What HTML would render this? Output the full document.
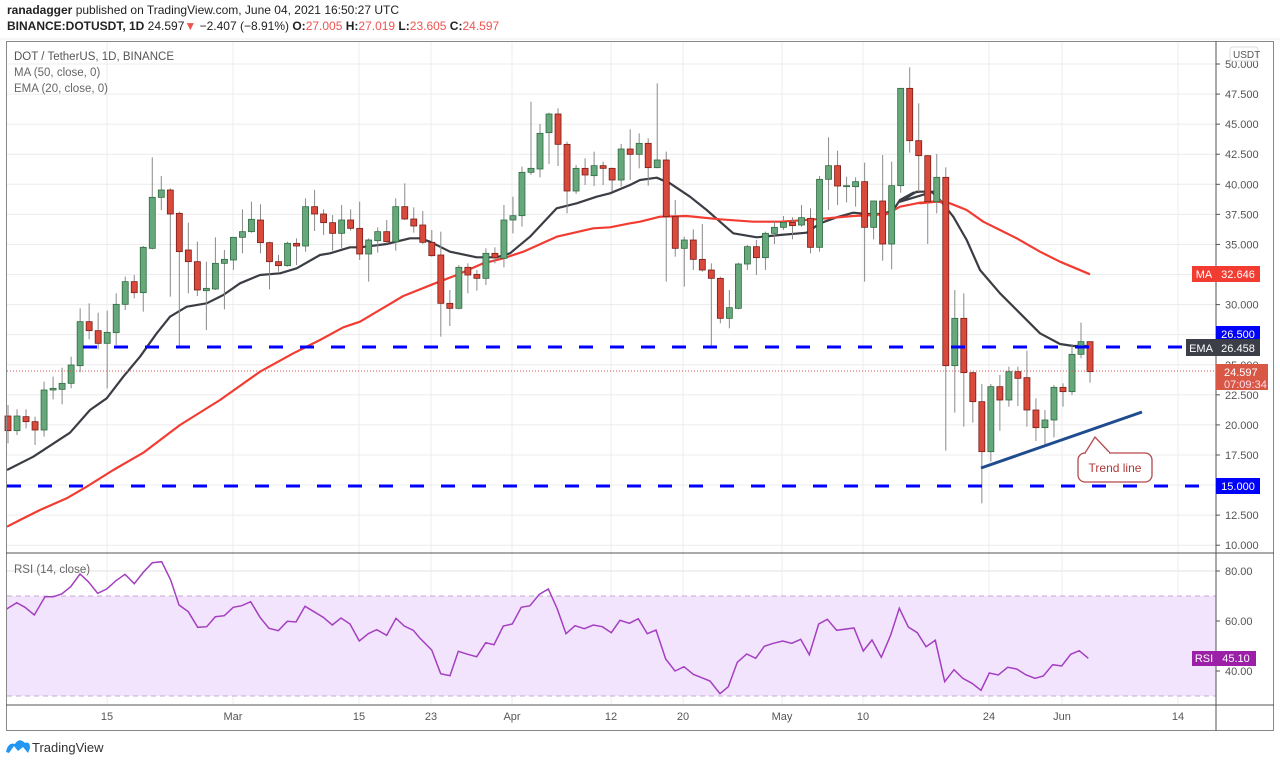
<!DOCTYPE html>
<html><head><meta charset="utf-8">
<style>
html,body{margin:0;padding:0;background:#fff;width:1280px;height:765px;overflow:hidden;font-family:"Liberation Sans",sans-serif;}
svg{position:absolute;left:0;top:0}
</style></head>
<body>
<svg id="s" width="1280" height="765" xmlns="http://www.w3.org/2000/svg" font-family="Liberation Sans, sans-serif">
<text x="7" y="14" font-size="12" fill="#222"><tspan font-weight="bold">ranadagger</tspan> published on TradingView.com, June 04, 2021 16:50:27 UTC</text>
<text x="7" y="30" font-size="12" fill="#222" font-weight="bold">BINANCE:DOTUSDT, 1D <tspan font-weight="normal">24.597</tspan><tspan fill="#ef5350">▼</tspan> <tspan font-weight="normal">−2.407 (−8.91%)</tspan> O:<tspan fill="#ef5350" font-weight="normal">27.005</tspan> H:<tspan fill="#ef5350" font-weight="normal">27.019</tspan> L:<tspan fill="#ef5350" font-weight="normal">23.605</tspan> C:<tspan fill="#ef5350" font-weight="normal">24.597</tspan></text>
<line x1="0" y1="39" x2="1280" y2="39" stroke="#eee"/>
<g id="grid"></g>
<rect x="7" y="596" width="1209" height="100" fill="#f3e4fd"/>
<line x1="7" y1="596" x2="1216" y2="596" stroke="#c9a9d6" stroke-dasharray="5,4"/>
<line x1="7" y1="696" x2="1216" y2="696" stroke="#c9a9d6" stroke-dasharray="5,4"/>
<g id="lines"></g>
<g id="candles"></g>
<g id="over"></g>
<rect x="6.5" y="41.5" width="1267" height="689" fill="none" stroke="#888"/>
<line x1="6" y1="553" x2="1274" y2="553" stroke="#555"/>
<line x1="6" y1="705" x2="1274" y2="705" stroke="#555"/>
<line x1="1216" y1="41" x2="1216" y2="731" stroke="#555"/>
<text x="14" y="60" font-size="11.5" fill="#555">DOT / TetherUS, 1D, BINANCE</text>
<text x="14" y="76" font-size="11.5" fill="#666">MA (50, close, 0)</text>
<text x="14" y="92" font-size="11.5" fill="#666">EMA (20, close, 0)</text>
<text x="14" y="573" font-size="11.5" fill="#666">RSI (14, close)</text>
<g id="axis" font-size="11" fill="#555"></g>
<rect x="1230" y="47" width="28" height="14" rx="3" fill="#fff" stroke="#ddd"/>
<text x="1233" y="58" font-size="10" fill="#555">USDT</text>
<line x1="981" y1="468" x2="1142" y2="412" stroke="#1f4c8f" stroke-width="3"/>
<path d="M1085 453 L1095 437 L1110 453" fill="#fff" stroke="#b5484b" stroke-width="1.3"/>
<rect x="1078" y="453" width="74" height="29" rx="7" fill="#fff" stroke="#b5484b" stroke-width="1.3"/>
<line x1="1086" y1="453" x2="1109" y2="453" stroke="#fff" stroke-width="2"/>
<text x="1115" y="472" font-size="12" fill="#b03a3a" text-anchor="middle">Trend line</text>
<rect x="1192" y="266" width="24" height="16" fill="#f23c32"/><text x="1204" y="278" font-size="11" fill="#fff" text-anchor="middle">MA</text>
<rect x="1216" y="266" width="44" height="16" fill="#f23c32"/><text x="1238" y="278" font-size="11" fill="#fff" text-anchor="middle">32.646</text>
<rect x="1216" y="326" width="44" height="16" fill="#0000ff"/><text x="1238" y="338" font-size="11" fill="#fff" text-anchor="middle">26.500</text>
<rect x="1186" y="339" width="30" height="17" fill="#3d3f48"/><text x="1201" y="352" font-size="11" fill="#fff" text-anchor="middle">EMA</text>
<rect x="1216" y="339" width="44" height="17" fill="#3d3f48"/><text x="1238" y="352" font-size="11" fill="#fff" text-anchor="middle">26.458</text>
<rect x="1216" y="364" width="52" height="26" fill="#d95745"/><text x="1224" y="376" font-size="11" fill="#fff">24.597</text><text x="1224" y="388" font-size="11" fill="#fde">07:09:34</text>
<rect x="1216" y="478" width="44" height="16" fill="#0000ff"/><text x="1238" y="490" font-size="11" fill="#fff" text-anchor="middle">15.000</text>
<rect x="1192" y="651" width="24" height="15" fill="#9c1fa8"/><text x="1204" y="662" font-size="11" fill="#fff" text-anchor="middle">RSI</text>
<rect x="1216" y="651" width="40" height="15" fill="#9c1fa8"/><text x="1236" y="662" font-size="11" fill="#fff" text-anchor="middle">45.10</text>
<path d="M6 752 Q8 742 15 744 Q19 737 25 743 Q30 741 30 748 L28 753 L23 747 L18 751 L14 746 L9 753 Z" fill="#2196f3"/>
<text x="32" y="752" font-size="13" fill="#333">TradingView</text>
</svg>
<script>
const NS="http://www.w3.org/2000/svg";
function el(p,t,a){const e=document.createElementNS(NS,t);for(const k in a)e.setAttribute(k,a[k]);document.getElementById(p).appendChild(e);return e;}
const Y=z=>40+z/3;
const py=v=>64+(50-v)*12.03;
for(let v=50;v>=10;v-=2.5){el('grid','line',{x1:7,x2:1216,y1:py(v),y2:py(v),stroke:'#ececec'});
 el('axis','line',{x1:1216,x2:1220,y1:py(v),y2:py(v),stroke:'#555'});
 const t=el('axis','text',{x:1225,y:py(v)+4});t.textContent=v.toFixed(3);}
const ry=v=>571+(80-v)*2.5;
[80,60,40].forEach(v=>{el('grid','line',{x1:7,x2:1216,y1:ry(v),y2:ry(v),stroke:'#e2e2e2'});
 el('axis','line',{x1:1216,x2:1220,y1:ry(v),y2:ry(v),stroke:'#555'});
 const t=el('axis','text',{x:1225,y:ry(v)+4});t.textContent=v.toFixed(2);});
const xl=[[107,'15'],[233,'Mar'],[359,'15'],[431,'23'],[512,'Apr'],[611,'12'],[683,'20'],[782,'May'],[863,'10'],[989,'24'],[1062,'Jun'],[1178,'14']];
xl.forEach(([x,s])=>{el('grid','line',{x1:x,x2:x,y1:41,y2:705,stroke:'#ececec'});
 const t=el('axis','text',{x:x,y:720,'text-anchor':'middle'});t.textContent=s;});
el('over','line',{x1:83,x2:1216,y1:347,y2:347,stroke:'#0000ff','stroke-width':3,'stroke-dasharray':'14,17'});
el('over','line',{x1:7,x2:1216,y1:486,y2:486,stroke:'#0000ff','stroke-width':3,'stroke-dasharray':'14,17'});
el('over','line',{x1:7,x2:1216,y1:371,y2:371,stroke:'#e05050','stroke-width':1,'stroke-dasharray':'1,2'});
const C=`r 1128 1172 1095 1210|g 1128 1172 1108 1185|r 1130 1145 1108 1165|r 1145 1170 1130 1215|g 1050 1170 1025 1190|g 1045 1050 1010 1078|g 1030 1048 983 1093|g 975 1030 950 1045|g 845 977 805 997|r 845 872 790 898|r 872 910 818 928|g 877 910 812 1045|g 793 878 760 915|g 725 793 710 810|r 725 758 705 775|g 622 758 618 815|g 472 625 352 628|g 450 472 408 510|r 450 522 445 770|r 520 635 515 925|r 630 665 548 760|r 665 750 605 768|g 745 752 665 870|g 670 747 592 750|g 658 670 630 808|g 592 660 592 690|g 575 592 508 640|g 538 575 485 578|r 540 608 493 640|r 608 665 605 748|r 665 677 645 695|g 610 677 605 680|r 610 618 595 675|g 500 618 475 635|r 500 522 450 573|r 522 548 508 585|r 548 580 525 632|g 540 580 495 625|r 540 565 508 572|r 565 642 485 660|g 600 642 595 725|g 575 602 562 638|r 575 605 540 612|g 500 605 475 632|r 500 537 430 540|r 537 558 502 578|r 555 607 513 612|r 607 647 570 650|r 645 790 575 890|r 790 805 750 858|g 682 805 675 808|r 682 705 670 760|r 703 715 690 752|g 640 715 625 735|r 640 653 622 670|g 540 655 495 682|g 527 540 470 580|g 397 527 380 560|g 385 397 185 405|g 280 387 252 412|g 222 278 218 372|r 222 313 205 378|r 313 453 305 520|g 385 453 375 462|r 385 405 355 435|g 377 407 335 438|r 377 385 365 435|r 385 420 383 455|g 327 420 312 440|r 327 343 268 420|g 310 343 280 385|r 310 383 295 437|g 360 383 130 385|r 360 530 335 725|r 530 625 480 650|g 600 625 590 740|r 600 658 568 690|r 658 690 552 695|r 690 715 670 920|r 715 835 710 850|g 803 835 750 865|g 672 805 668 808|g 620 672 615 690|r 620 653 600 705|g 580 653 575 690|g 562 580 545 612|g 547 562 528 570|r 547 557 532 598|g 533 555 495 560|r 535 622 505 640|g 418 622 408 635|g 377 418 292 510|r 377 438 332 495|g 437 440 410 487|g 425 440 412 500|r 425 562 368 725|g 483 562 483 598|r 483 612 345 662|g 437 612 365 688|g 145 437 145 458|r 145 302 82 338|r 302 347 190 455|r 347 485 345 612|g 412 485 342 520|r 412 977 382 1232|g 835 977 750 1118|r 835 998 760 1160|r 998 1085 995 1148|r 1085 1235 1032 1390|g 1040 1235 1032 1265|r 1040 1080 1005 1172|g 995 1080 980 1100|r 995 1015 980 1098|r 1013 1110 932 1160|r 1110 1163 1075 1203|g 1140 1163 1110 1215|g 1042 1140 1035 1192|r 1042 1055 1030 1100|g 943 1055 912 1065|g 905 943 848 955|r 905 995 905 1028`.split('|');
C.forEach((s,i)=>{const p=s.split(' ');const x=8+9.017*i;const bt=Y(+p[1]),bb=Y(+p[2]),wt=Y(+p[3]),wb=Y(+p[4]);
 el('candles','line',{x1:x,x2:x,y1:wt,y2:wb,stroke:'#8a8a8a','stroke-width':1});
 const g=p[0]==='g';
 el('candles','rect',{x:x-3,y:bt,width:6,height:Math.max(bb-bt,1),fill:g?'#66a87c':'#d9493c',stroke:g?'#2f6b40':'#7a1d17','stroke-width':0.8});});
function poly(segs,col,w){let pts=[];segs.forEach(([ox,sc,arr])=>{for(let i=0;i<arr.length;i+=2)pts.push((ox+arr[i]/sc).toFixed(1)+','+Y(arr[i+1]).toFixed(1));});
 el('lines','polyline',{points:pts.join(' '),fill:'none',stroke:col,'stroke-width':w,'stroke-linejoin':'round'});}
poly([[0,3,[21,1290,100,1250,210,1178,270,1110,320,1075,370,1010,420,950,470,880,510,830,560,800,620,790,670,765,720,730,780,705,840,700,890,685,960,645]],
[310,3,[60,640,120,622,150,622,230,612,300,595,330,595,360,605,420,635,500,652,560,652,600,640,660,590,740,505,800,490,860,470,900,460,960,435]],
[620,3,[60,420,110,413,150,430,210,470,260,510,300,545,340,580,410,592,480,585,560,578,600,550,650,532,700,518,740,522,790,522,820,510,840,480,880,458,900,455,940,455]],
[900,3,[0,485,50,455,95,455,120,480,160,530,200,600,240,690,300,760,360,820,420,880,480,912,520,918,565,918]]],'#3b3d44',2.2);
poly([[0,3,[21,1460,60,1440,120,1410,200,1375,260,1340,340,1290,430,1238,540,1155,660,1080,780,995,880,940,960,900]],
[310,3,[100,862,150,845,280,768,380,728,440,705,520,670,580,655,640,635,740,590,850,565,900,562,960,550]],
[620,3,[60,545,120,530,200,528,300,538,400,545,480,545,560,540,620,535,700,528,760,525,800,522,840,500,900,488,960,483]],
[900,3,[60,490,110,485,150,490,200,510,250,545,300,570,350,595,420,635,480,665,570,703]]],'#f23c32',2.2);
const R=[[0,[20,192,50,173,75,187,103,210,135,155,160,155,185,147,212,125,240,87,265,110,293,145,320,132,348,107,375,88,403,116,430,82,457,53,485,50,512,105,537,180,565,200,593,247,620,245,646,215,673,212,700,187,725,182,752,170,780,217,807,250,835,257,862,229,888,231,915,184,942,200,970,217,997,240,1023,219,1050,237,1078,288,1105,266,1130,254,1160,271,1188,220,1213,243,1240,256]],
[420,[0,280,35,315,62,386,90,392,115,319,143,328,170,335,197,293,222,299,250,243,277,237,304,187,330,182,358,148,385,132,412,192,438,266,465,242,493,251,520,240,547,245,574,263,600,226,628,235,655,221,682,266,708,255,737,342,765,378,792,365,820,388,845,398,870,408,900,446,925,425,952,352,980,327,1007,340,1033,304,1060,295,1088,288,1115,295,1142,283,1168,329,1196,237,1222,223,1250,256]],
[840,[42,249,70,318,96,285,124,337,152,270,178,190,205,246,232,263,258,305,286,286,314,410,342,374,368,400,396,415,423,436,448,384,475,390,503,367,530,372,557,389,585,400,610,393,638,359,665,363,692,328,718,317,745,340]]];
let rp=[];R.forEach(([ox,a])=>{for(let i=0;i<a.length;i+=2)rp.push((ox+a[i]/3).toFixed(1)+','+(545+a[i+1]/3).toFixed(1));});
el('lines','polyline',{points:rp.join(' '),fill:'none',stroke:'#a33fc0','stroke-width':1.5});
</script>
</body></html>
